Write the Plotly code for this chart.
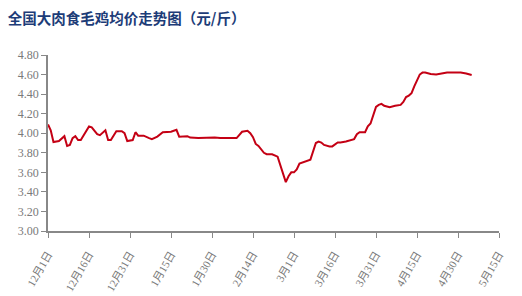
import datetime as dt
import plotly.graph_objects as go

# Data: day offset from 2022-12-01 and price (元/斤)
day_offsets = [0, 1, 2, 4, 6, 7, 8, 9, 10, 11, 12, 15, 16, 18, 19, 21, 22, 23, 25, 27,
               28, 29, 31, 32, 33, 35, 37, 38, 40, 42, 45, 47, 48, 51, 52, 55, 61, 63, 69, 71,
               73, 74, 75, 76, 77, 79, 80, 82, 84, 86, 87, 88, 89, 90, 91, 92, 93, 95, 96, 98,
               99, 100, 101, 103, 104, 106, 107, 109, 110, 112, 113, 114, 116, 117, 118, 120, 121, 122, 123, 125,
               127, 129, 130, 131, 132, 133, 134, 135, 136, 137, 138, 140, 142, 144, 146, 148, 151, 153, 155]
prices = [4.09, 4.03, 3.91, 3.92, 3.97, 3.87, 3.88, 3.95, 3.97, 3.93, 3.93, 4.07, 4.06, 3.99, 3.98, 4.03, 3.93, 3.93, 4.02, 4.02,
          4.00, 3.92, 3.93, 4.01, 3.975, 3.975, 3.95, 3.94, 3.965, 4.01, 4.015, 4.035, 3.965, 3.97, 3.955, 3.95, 3.955, 3.95, 3.95, 4.015,
          4.025, 4.00, 3.96, 3.89, 3.87, 3.80, 3.785, 3.785, 3.76, 3.58, 3.50, 3.56, 3.60, 3.60, 3.63, 3.69, 3.70, 3.72, 3.73, 3.90,
          3.915, 3.905, 3.88, 3.865, 3.865, 3.905, 3.905, 3.915, 3.925, 3.94, 3.99, 4.01, 4.01, 4.07, 4.10, 4.27, 4.29, 4.30, 4.28, 4.265,
          4.28, 4.29, 4.32, 4.37, 4.385, 4.41, 4.48, 4.55, 4.60, 4.62, 4.62, 4.605, 4.60, 4.61, 4.62, 4.62, 4.62, 4.61, 4.595]

start = dt.date(2022, 12, 1)
dates = [start + dt.timedelta(days=d) for d in day_offsets]

tick_dates = [start + dt.timedelta(days=15 * i) for i in range(12)]
tick_labels = ["12月1日", "12月16日", "12月31日", "1月15日", "1月30日", "2月14日",
               "3月1日", "3月16日", "3月31日", "4月15日", "4月30日", "5月15日"]
y_ticks = [3.00, 3.20, 3.40, 3.60, 3.80, 4.00, 4.20, 4.40, 4.60, 4.80]

fig = go.Figure()
fig.add_trace(go.Scatter(x=dates, y=prices, mode="lines",
                         line=dict(color="#c40014", width=2), hoverinfo="skip"))

fig.update_layout(
    width=522, height=296,
    margin=dict(l=48, r=23, t=55, b=65),
    plot_bgcolor="white", paper_bgcolor="white",
    showlegend=False,
    title=dict(text="<b>全国大肉食毛鸡均价走势图（元/斤）</b>",
               x=0.015, xanchor="left", y=0.935, yanchor="middle",
               font=dict(family="Noto Sans CJK SC", size=14.5, color="#1d3c78")),
    xaxis=dict(type="date",
               range=[tick_dates[0], tick_dates[-1]],
               tickvals=tick_dates, ticktext=tick_labels, tickangle=-60,
               showgrid=False, zeroline=False, automargin=False,
               showline=True, linecolor="#888888", linewidth=1.5,
               ticks="outside", ticklen=5, tickcolor="#888888",
               ticklabelstandoff=6,
               tickfont=dict(family="Liberation Serif, Noto Sans CJK SC", size=11, color="#7a7a7a")),
    yaxis=dict(range=[3.0, 4.8], tickvals=y_ticks,
               ticktext=[f"{v:.2f}" for v in y_ticks],
               showgrid=False, zeroline=False, automargin=False,
               showline=True, linecolor="#888888", linewidth=1.5,
               ticks="outside", ticklen=5, tickcolor="#888888",
               tickfont=dict(family="Liberation Serif", size=12, color="#7a7a7a")),
)

fig.write_html("out.html")
